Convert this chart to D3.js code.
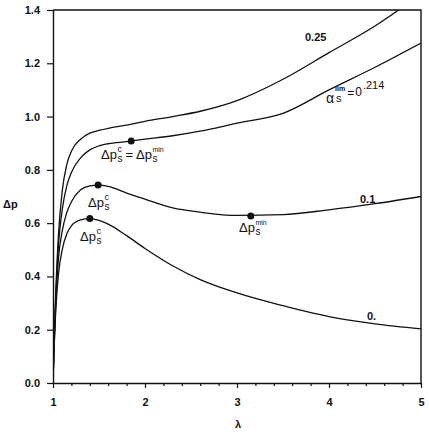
<!DOCTYPE html>
<html>
<head>
<meta charset="utf-8">
<script src="https://cdn.jsdelivr.net/npm/d3@7"></script>
<style>
  body { margin: 0; background: #fff; }
  text { font-family: "Liberation Sans", Arial, sans-serif; fill: #111; }
</style>
</head>
<body>
<div id="chart"></div>
<script>
// lambda grid shared by all curves
var lambda = [1.0, 1.01, 1.03, 1.06, 1.1, 1.15, 1.2, 1.3, 1.4, 1.5, 1.6, 1.8, 2.0, 2.3, 2.6, 3.0, 3.5, 4.0, 4.5, 5.0];

// delta p for each alpha_s
var dp000 = [0, 0.11, 0.27, 0.41, 0.50, 0.56, 0.59, 0.612, 0.617, 0.61, 0.596, 0.553, 0.505, 0.44, 0.388, 0.338, 0.29, 0.249, 0.222, 0.203];
var dp010 = [0, 0.12, 0.30, 0.47, 0.57, 0.64, 0.68, 0.725, 0.74, 0.743, 0.738, 0.713, 0.69, 0.657, 0.641, 0.629, 0.632, 0.650, 0.673, 0.70];
var dp214 = [0, 0.13, 0.32, 0.52, 0.65, 0.74, 0.79, 0.845, 0.875, 0.89, 0.898, 0.906, 0.915, 0.928, 0.945, 0.975, 1.012, 1.10, 1.185, 1.276];
var dp250 = [0, 0.14, 0.34, 0.56, 0.72, 0.82, 0.87, 0.915, 0.938, 0.948, 0.956, 0.968, 0.982, 1.00, 1.02, 1.06, 1.14, 1.24, 1.34, 1.46];

// marked points: critical and minimum pressures
var markLambda = [1.40, 1.49, 1.85, 3.15];
var markDp = [0.617, 0.743, 0.908, 0.627];

var xTicks = [1, 2, 3, 4, 5];
var xMinor = [1.2, 1.4, 1.6, 1.8, 2.2, 2.4, 2.6, 2.8, 3.2, 3.4, 3.6, 3.8, 4.2, 4.4, 4.6, 4.8];
var yTicks = [0, 0.2, 0.4, 0.6, 0.8, 1.0, 1.2, 1.4];

var margin = {top: 10, right: 8, bottom: 49, left: 53};
var svgWidth = 429;
var svgHeight = 432;
var width = svgWidth - margin.left - margin.right;
var height = svgHeight - margin.top - margin.bottom;

var xScale = d3.scaleLinear().domain([1, 5]).range([0, width]);
var yScale = d3.scaleLinear().domain([0, 1.4]).range([height, 0]);

var svg = d3.select('#chart').append('svg')
  .attr('width', svgWidth)
  .attr('height', svgHeight);

var main = svg.append('g')
  .attr('transform', 'translate(' + margin.left + ',' + margin.top + ')');

main.append('clipPath').attr('id', 'clip')
  .append('rect').attr('width', width).attr('height', height);

// frame (top and right sides)
main.append('path')
  .attr('d', 'M0,0H' + width + 'V' + height)
  .attr('fill', 'none').attr('stroke', '#111').attr('stroke-width', 1.4);

// axes
main.append('g')
  .attr('transform', 'translate(0,' + height + ')')
  .call(d3.axisBottom(xScale).tickValues(xTicks).tickFormat(d3.format('d'))
    .tickSize(5).tickSizeOuter(0).tickPadding(10));
main.append('g')
  .attr('transform', 'translate(0,' + height + ')')
  .call(d3.axisBottom(xScale).tickValues(xMinor).tickFormat('')
    .tickSize(3).tickSizeOuter(0))
  .select('.domain').remove();

main.append('g')
  .call(d3.axisLeft(yScale).tickValues(yTicks).tickFormat(d3.format('.1f'))
    .tickSize(6).tickSizeOuter(0).tickPadding(7));

main.selectAll('.domain').attr('stroke', '#111').attr('stroke-width', 1.4);
main.selectAll('.tick line').attr('stroke', '#111').attr('stroke-width', 1.2);
main.selectAll('.tick text')
  .style('font-family', '"Liberation Sans", Arial, sans-serif')
  .style('font-size', '11px').style('font-weight', 'bold').attr('fill', '#111');

// curves
var line = d3.line()
  .x(function(d) { return xScale(d[0]); })
  .y(function(d) { return yScale(d[1]); })
  .curve(d3.curveMonotoneX);

[dp000, dp010, dp214, dp250].forEach(function(vals) {
  main.append('path')
    .datum(lambda.map(function(l, i) { return [l, vals[i]]; }))
    .attr('clip-path', 'url(#clip)')
    .attr('fill', 'none')
    .attr('stroke', '#111')
    .attr('stroke-width', 1.3)
    .attr('d', line);
});

main.selectAll('.mark')
  .data(markLambda)
  .enter().append('circle')
  .attr('cx', function(d) { return xScale(d); })
  .attr('cy', function(d, i) { return yScale(markDp[i]); })
  .attr('r', 3.5)
  .attr('fill', '#111');

// labels (svg coordinates)
var lab = svg.append('g');

function txt(x, y, s, size, weight) {
  return lab.append('text').attr('x', x).attr('y', y)
    .style('font-size', size + 'px').style('font-weight', weight || 'normal').text(s);
}

// "Δp" + superscript + subscript s stacked under it, inside text t
function addDps(t, sup) {
  t.append('tspan').style('font-size', '13px').text('Δp');
  var supSize = sup.length > 1 ? 7 : 9;
  var up = t.append('tspan').attr('dx', 0.5).attr('dy', -7)
    .style('font-size', supSize + 'px').text(sup);
  var supW = up.node().getComputedTextLength();
  var sub = t.append('tspan').attr('dx', -supW).attr('dy', 10)
    .style('font-size', '10px').text('s');
  var sW = sub.node().getComputedTextLength();
  return Math.max(supW - sW, 0);
}

function dpsLabel(x, y, sup) {
  var t = lab.append('text').attr('x', x).attr('y', y);
  addDps(t, sup);
  return t;
}

dpsLabel(80, 241, 'c');
dpsLabel(88, 207, 'c');
dpsLabel(239, 232, 'min');

var eq = lab.append('text').attr('x', 101).attr('y', 159);
var back = addDps(eq, 'c');
eq.append('tspan').attr('dx', back + 3).attr('dy', -3).style('font-size', '13px').text('=');
eq.append('tspan').attr('dx', 3).style('font-size', '13px').text('Δp');
var up2 = eq.append('tspan').attr('dx', 0.5).attr('dy', -7).style('font-size', '7px').text('min');
var w2 = up2.node().getComputedTextLength();
eq.append('tspan').attr('dx', -w2).attr('dy', 10).style('font-size', '10px').text('s');

txt(305, 41, '0.25', 11, 'bold');
txt(360, 203, '0.1', 11, 'bold');
txt(367, 320, '0.', 11, 'bold');

// alpha_s^lim = 0.214
var al = lab.append('text').attr('x', 326).attr('y', 103);
al.append('tspan').style('font-size', '14px').text('α');
var limT = al.append('tspan').attr('dx', 1).attr('dy', -12)
  .style('font-size', '7px').style('font-weight', 'bold').text('lim');
var limW = limT.node().getComputedTextLength();
var sT = al.append('tspan').attr('dx', -limW + 1).attr('dy', 11).style('font-size', '11px').text('s');
var sW2 = sT.node().getComputedTextLength();
al.append('tspan').attr('dx', Math.max(limW - 1 - sW2, 0) + 2).attr('dy', -5).style('font-size', '12px').text('=');
al.append('tspan').attr('dx', 1).attr('dy', -1).style('font-size', '12px').text('0');
al.append('tspan').attr('dx', 1).attr('dy', -7).style('font-size', '11px').text('.214');

txt(3, 208, 'Δp', 11, 'bold');
txt(235, 428, 'λ', 11, 'bold');
</script>
</body>
</html>
